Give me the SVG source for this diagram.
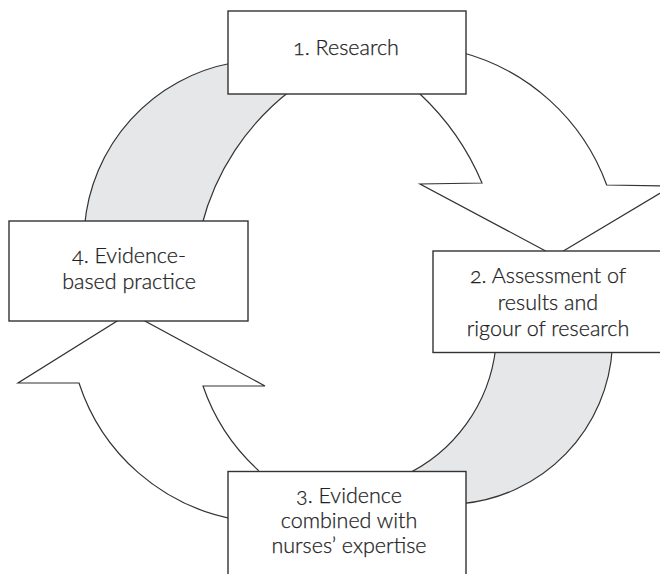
<svg xmlns="http://www.w3.org/2000/svg" width="660" height="574" viewBox="0 0 660 574">
  <style>
    .band { fill: #e6e7e8; stroke: #333333; stroke-width: 1.2; stroke-linejoin: miter; }
    .arrow { fill: #ffffff; stroke: #333333; stroke-width: 1.2; stroke-linejoin: miter; }
    .box { fill: #ffffff; stroke: #333333; stroke-width: 1.4; }
    .label { font-family: Lato, "Open Sans", "Liberation Sans", sans-serif; font-size: 21.5px; font-weight: 300; fill: #222222; stroke: #222222; stroke-width: 0.25; text-anchor: middle; font-variant-numeric: oldstyle-nums; font-feature-settings: "onum" 1; }
  </style>

  <!-- connectors: two shaded bands and two curved block arrows -->
  <g id="connectors">
    <!-- band from 4 up to 1 -->
    <path class="band" d="M84.6,226 A181,181 0 0 1 232,63 L291.3,90 A247.5,247.5 0 0 0 201.6,226 Z"/>
    <!-- arrow from 1 down to 2 -->
    <path class="arrow" d="M460,52 A213,213 0 0 1 606.7,185 L672,186 L555,256 L420,184 L482,183 A261,261 0 0 0 420,94 Z"/>
    <!-- band from 2 down to 3 -->
    <path class="band" d="M612.3,348 A166,166 0 0 1 462,503.6 L403.1,476 A160.7,160.7 0 0 0 495.7,348 Z"/>
    <!-- arrow from 3 up to 4 -->
    <path class="arrow" d="M235,519.3 A202,202 0 0 1 79,383 L18,383 L130,313 L265,386 L203,386 A203.4,203.4 0 0 0 258,470 L262,478 Z"/>
  </g>

  <g id="node1">
    <rect class="box" x="228" y="11" width="238" height="83"/>
    <text class="label" x="346" y="55">1. Research</text>
  </g>

  <g id="node2">
    <rect class="box" x="433" y="251" width="228" height="101.5"/>
    <text class="label" x="548" y="283">2. Assessment of</text>
    <text class="label" x="548" y="310">results and</text>
    <text class="label" x="548" y="336">rigour of research</text>
  </g>

  <g id="node3">
    <rect class="box" x="228" y="471.5" width="238" height="110"/>
    <text class="label" x="349" y="503">3. Evidence</text>
    <text class="label" x="349" y="528">combined with</text>
    <text class="label" x="349" y="553">nurses’ expertise</text>
  </g>

  <g id="node4">
    <rect class="box" x="9" y="221" width="239" height="100"/>
    <text class="label" x="129" y="263">4. Evidence-</text>
    <text class="label" x="129" y="289">based practice</text>
  </g>
</svg>
